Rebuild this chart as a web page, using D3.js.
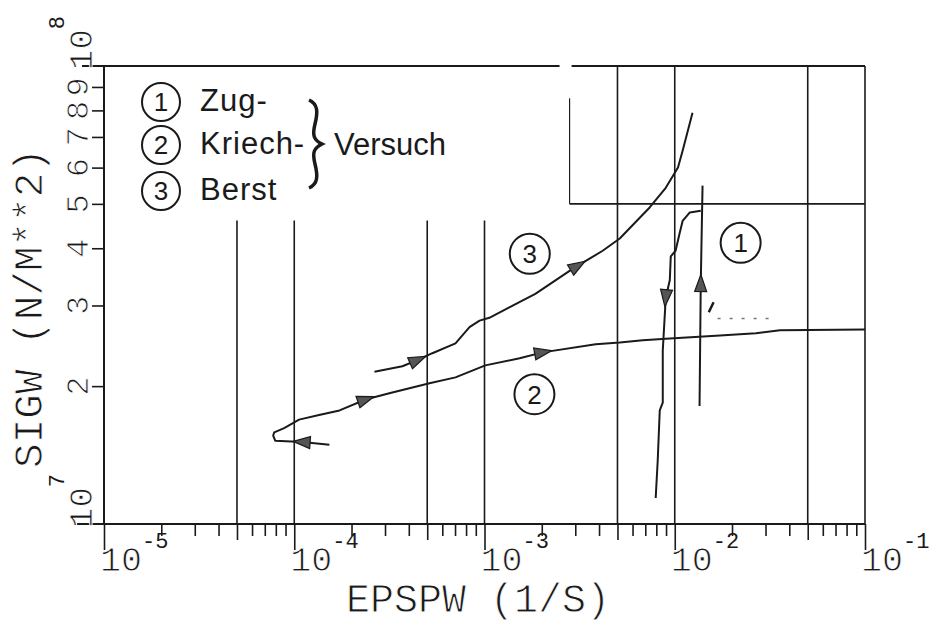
<!DOCTYPE html>
<html>
<head>
<meta charset="utf-8">
<script src="https://cdn.jsdelivr.net/npm/d3@7"></script>
<style>
  body { margin: 0; background: #fff; }
  .plot { font-family: "Liberation Mono", "DejaVu Sans Mono", monospace; fill: #1a1a1a; }
  .plot text.thin { stroke: #fff; stroke-width: 0.9px; paint-order: fill stroke; }
  .plot text.thin tspan.sup { stroke: none; }
  .legend { font-family: "Liberation Sans", Arial, sans-serif; fill: #1a1a1a; }
</style>
</head>
<body>
<div id="chart"></div>
<script>
// curve 1: Zug-Versuch (up and down branch)
var zugUpX = [1.35e-2, 1.37e-2, 1.40e-2];
var zugUpY = [1.81e7, 3.35e7, 5.48e7];
var zugDownX = [1.37e-2, 1.20e-2, 1.10e-2, 1.06e-2, 1.01e-2, 9.53e-3, 9.42e-3, 8.97e-3, 8.65e-3, 8.65e-3, 8.34e-3, 8.14e-3, 7.94e-3];
var zugDownY = [4.83e7, 4.79e7, 4.59e7, 4.31e7, 3.95e7, 3.84e7, 3.41e7, 3.12e7, 2.39e7, 1.84e7, 1.77e7, 1.38e7, 1.14e7];

// curve 2: Kriech-Versuch
var kriechX = [1.53e-4, 1.10e-4, 7.94e-5, 7.75e-5, 7.85e-5, 8.85e-5, 1.06e-4, 1.35e-4, 1.73e-4, 2.37e-4, 3.16e-4, 5.14e-4, 7.04e-4, 1.01e-3, 1.53e-3, 2.02e-3, 3.84e-3, 5.14e-3, 6.79e-3, 9.42e-3, 1.73e-2, 2.67e-2, 3.57e-2, 1.0e-1];
var kriechY = [1.49e7, 1.51e7, 1.52e7, 1.56e7, 1.585e7, 1.62e7, 1.69e7, 1.73e7, 1.77e7, 1.87e7, 1.93e7, 2.03e7, 2.09e7, 2.22e7, 2.30e7, 2.37e7, 2.47e7, 2.49e7, 2.52e7, 2.54e7, 2.58e7, 2.61e7, 2.65e7, 2.66e7];

// curve 3: Berst-Versuch
var berstX = [2.64e-4, 3.70e-4, 4.44e-4, 5.32e-4, 7.04e-4, 8.34e-4, 9.42e-4, 1.06e-3, 1.35e-3, 1.85e-3, 2.80e-3, 3.08e-3, 4.18e-3, 5.14e-3, 7.38e-3, 8.97e-3, 1.04e-2, 1.10e-2, 1.24e-2];
var berstY = [2.15e7, 2.21e7, 2.28e7, 2.36e7, 2.48e7, 2.69e7, 2.78e7, 2.82e7, 2.97e7, 3.18e7, 3.57e7, 3.66e7, 3.95e7, 4.20e7, 4.91e7, 5.42e7, 6.0e7, 6.53e7, 7.91e7];

// arrow heads (index into each curve)
var zugUpArrows = [1];
var zugDownArrows = [7];
var kriechArrows = [1, 9, 15];
var berstArrows = [2, 11];

// curve labels (circled numbers)
var labelText = ["1", "2", "3"];
var labelX = [2.22e-2, 1.83e-3, 1.73e-3];
var labelY = [4.11e7, 1.92e7, 3.89e7];

// axis ticks
var xDecades = [1e-5, 1e-4, 1e-3, 1e-2, 1e-1];
var xExp = ["-5", "-4", "-3", "-2", "-1"];
var yTicks = [2e7, 3e7, 4e7, 5e7, 6e7, 7e7, 8e7, 9e7];
var yTickLabels = ["2", "3", "4", "5", "6", "7", "8", "9"];

// grid lines of the plotter sheet
var gridX = [5e-5, 1e-4, 5e-4, 1e-3, 5e-3, 1e-2, 5e-2, 1e-1];
var gridTop = [4.6e7, 4.6e7, 4.6e7, 4.6e7, 1e8, 1e8, 1e8, 1e8];

// legend
var legendText = ["Zug-", "Kriech-", "Berst"];

// stray pen marks
var strayX = [1.51e-2, 1.60e-2];
var strayY = [2.9e7, 3.05e7];

var svgWidth = 937;
var svgHeight = 625;

var svg = d3.select("#chart")
  .append("svg")
  .attr("width", svgWidth)
  .attr("height", svgHeight)
  .attr("class", "plot");

var xScale = d3.scaleLog()
  .domain([1e-5, 1e-1])
  .range([104, 865]);

var yScale = d3.scaleLog()
  .domain([1e7, 1e8])
  .range([524, 66]);

var ink = "#1a1a1a";

// grid lines
svg.append("g").selectAll("line")
  .data(gridX)
  .enter()
  .append("line")
  .attr("x1", d => xScale(d))
  .attr("x2", d => xScale(d))
  .attr("y1", yScale(1e7))
  .attr("y2", (d, i) => yScale(gridTop[i]))
  .attr("stroke", ink)
  .attr("stroke-width", 1.6);

// top border with small gap, box corner
svg.append("line")
  .attr("x1", xScale(1e-5) - 22).attr("x2", xScale(2.48e-3))
  .attr("y1", yScale(1e8)).attr("y2", yScale(1e8))
  .attr("stroke", ink).attr("stroke-width", 1.8);
svg.append("line")
  .attr("x1", xScale(2.87e-3)).attr("x2", xScale(1e-1))
  .attr("y1", yScale(1e8)).attr("y2", yScale(1e8))
  .attr("stroke", ink).attr("stroke-width", 1.8);
svg.append("line")
  .attr("x1", xScale(2.8e-3)).attr("x2", xScale(2.8e-3))
  .attr("y1", yScale(8.5e7)).attr("y2", yScale(5e7))
  .attr("stroke", ink).attr("stroke-width", 1.2);
svg.append("line")
  .attr("x1", xScale(2.8e-3)).attr("x2", xScale(1e-1))
  .attr("y1", yScale(5e7)).attr("y2", yScale(5e7))
  .attr("stroke", ink).attr("stroke-width", 1.8);

// axes lines
svg.append("line")
  .attr("x1", xScale(1e-5) - 27).attr("x2", xScale(1e-1))
  .attr("y1", yScale(1e7)).attr("y2", yScale(1e7))
  .attr("stroke", ink).attr("stroke-width", 2);
svg.append("line")
  .attr("x1", xScale(1e-5)).attr("x2", xScale(1e-5))
  .attr("y1", yScale(1e7)).attr("y2", yScale(1e8))
  .attr("stroke", ink).attr("stroke-width", 2);

// x ticks, three lengths
var minor = [];
var fives = [];
xDecades.slice(0, 4).forEach(function(d) {
  [2, 3, 4, 6, 7, 8, 9].forEach(m => minor.push(d * m));
  fives.push(d * 5);
});

function tickAxis(values, size) {
  var g = svg.append("g")
    .attr("transform", `translate(0, ${yScale(1e7)})`)
    .call(d3.axisBottom(xScale).tickValues(values).tickSize(size).tickFormat(""));
  g.select(".domain").remove();
  g.selectAll("line").attr("stroke", ink).attr("stroke-width", 1.6);
}
tickAxis(minor, 12);
tickAxis(fives, 16);
tickAxis(xDecades, 26);

// x tick labels 10^n
var xLab = svg.append("g").selectAll("text")
  .data(xDecades)
  .enter()
  .append("text")
  .attr("class", "thin")
  .attr("x", d => xScale(d) - 4)
  .attr("y", 571)
  .style("font-size", "35px");
xLab.append("tspan").text("10");
xLab.append("tspan")
  .attr("class", "sup")
  .attr("dy", -23)
  .style("font-size", "22px")
  .text((d, i) => xExp[i]);

// y ticks
var yAxis = svg.append("g")
  .attr("transform", `translate(${xScale(1e-5)}, 0)`)
  .call(d3.axisLeft(yScale).tickValues(yTicks).tickSize(12).tickFormat(""));
yAxis.select(".domain").remove();
yAxis.selectAll("line").attr("stroke", ink).attr("stroke-width", 1.6);

// y tick labels, rotated
svg.append("g").selectAll("text")
  .data(yTicks)
  .enter()
  .append("text")
  .attr("class", "thin")
  .attr("transform", d => `translate(88, ${yScale(d)}) rotate(-90)`)
  .attr("text-anchor", "middle")
  .style("font-size", "32px")
  .text((d, i) => yTickLabels[i]);

[[1e7, "7"], [1e8, "8"]].forEach(function(p) {
  var t = svg.append("text")
    .attr("class", "thin")
    .attr("transform", `translate(92, ${yScale(p[0]) + 4}) rotate(-90)`)
    .style("font-size", "34px");
  t.append("tspan").text("10");
  t.append("tspan").attr("class", "sup").attr("dy", -28).style("font-size", "22px").text(p[1]);
});

// axis titles
svg.append("text")
  .attr("class", "thin")
  .attr("x", 478)
  .attr("y", 612)
  .attr("text-anchor", "middle")
  .style("font-size", "40px")
  .text("EPSPW (1/S)");

svg.append("text")
  .attr("class", "thin")
  .attr("transform", "translate(42, 308) rotate(-90)")
  .attr("text-anchor", "middle")
  .style("font-size", "41px")
  .text("SIGW (N/M**2)");

// curves
var line = d3.line()
  .x(d => xScale(d[0]))
  .y(d => yScale(d[1]))
  .curve(d3.curveLinear);

var curves = [
  { xs: zugUpX, ys: zugUpY, arrows: zugUpArrows },
  { xs: zugDownX, ys: zugDownY, arrows: zugDownArrows },
  { xs: kriechX, ys: kriechY, arrows: kriechArrows },
  { xs: berstX, ys: berstY, arrows: berstArrows }
];

curves.forEach(function(c) {
  var pts = c.xs.map((x, i) => [x, c.ys[i]]);
  svg.append("path")
    .datum(pts)
    .attr("d", line)
    .attr("fill", "none")
    .attr("stroke", ink)
    .attr("stroke-width", 2)
    .attr("stroke-linejoin", "round");

  // arrow heads pointing along the curve
  svg.append("g").selectAll("path")
    .data(c.arrows)
    .enter()
    .append("path")
    .attr("d", "M9,0 L-8,-6 L-8,6 Z")
    .attr("fill", "#555")
    .attr("stroke", ink)
    .attr("stroke-width", 1.2)
    .attr("transform", function(i) {
      var a = pts[Math.max(i - 1, 0)];
      var b = pts[Math.min(i + 1, pts.length - 1)];
      var ang = Math.atan2(yScale(b[1]) - yScale(a[1]), xScale(b[0]) - xScale(a[0])) * 180 / Math.PI;
      return `translate(${xScale(pts[i][0])}, ${yScale(pts[i][1])}) rotate(${ang})`;
    });
});

// stray marks
svg.append("line")
  .attr("x1", xScale(strayX[0])).attr("y1", yScale(strayY[0]))
  .attr("x2", xScale(strayX[1])).attr("y2", yScale(strayY[1]))
  .attr("stroke", ink).attr("stroke-width", 2.5);
svg.append("line")
  .attr("x1", xScale(1.68e-2)).attr("x2", xScale(3.4e-2))
  .attr("y1", yScale(2.81e7)).attr("y2", yScale(2.81e7))
  .attr("stroke", "#777").attr("stroke-width", 1.5)
  .attr("stroke-dasharray", "3 9");

// circled curve labels
var circ = svg.append("g").selectAll("g")
  .data(labelText)
  .enter()
  .append("g")
  .attr("transform", (d, i) => `translate(${xScale(labelX[i])}, ${yScale(labelY[i])})`);
circ.append("circle")
  .attr("r", 20)
  .attr("fill", "none")
  .attr("stroke", ink)
  .attr("stroke-width", 2);
circ.append("text")
  .attr("class", "legend")
  .attr("text-anchor", "middle")
  .attr("dy", "0.36em")
  .style("font-size", "26px")
  .text(d => d);

// legend block
var legendY = [102, 145, 191];
var leg = svg.append("g").attr("class", "legend");
legendText.forEach(function(t, i) {
  leg.append("circle")
    .attr("cx", 161).attr("cy", legendY[i]).attr("r", 19)
    .attr("fill", "none").attr("stroke", ink).attr("stroke-width", 2);
  leg.append("text")
    .attr("x", 161).attr("y", legendY[i])
    .attr("dy", "0.36em")
    .attr("text-anchor", "middle")
    .style("font-size", "26px")
    .text(i + 1);
  leg.append("text")
    .attr("x", 200).attr("y", legendY[i] + 9)
    .style("font-size", "31px")
    .style("letter-spacing", "1px")
    .text(t);
});

// curly brace
leg.append("path")
  .attr("d", "M309,100 C318,104 318,112 315,124 C312,136 314,140 322,144 C314,148 312,152 315,164 C318,176 318,184 309,188")
  .attr("fill", "none")
  .attr("stroke", ink)
  .attr("stroke-width", 3.5);

leg.append("text")
  .attr("x", 334).attr("y", 155)
  .style("font-size", "31px")
  .text("Versuch");
</script>
</body>
</html>
